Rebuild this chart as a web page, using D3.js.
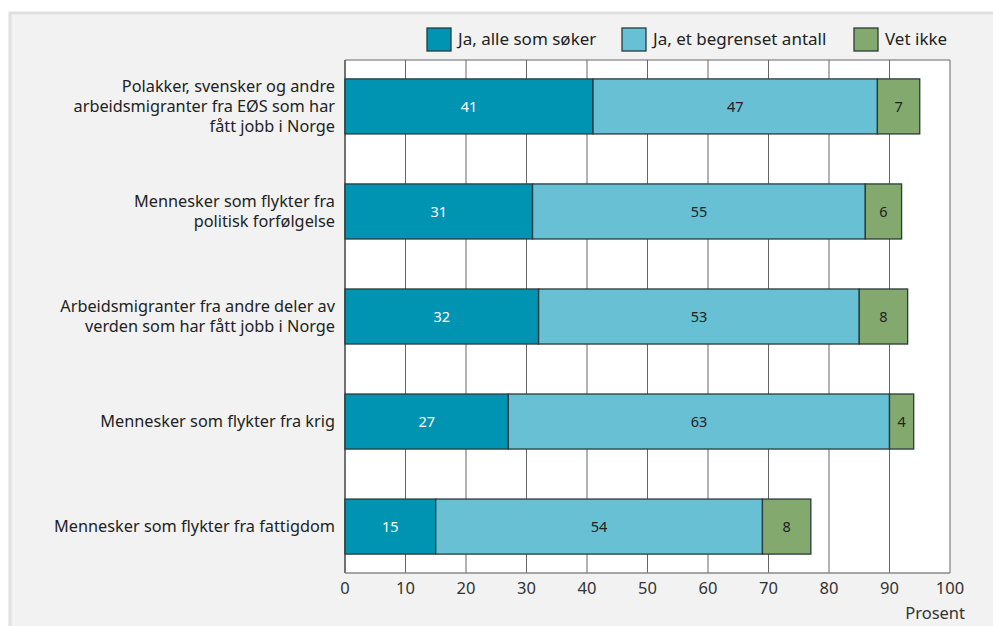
<!DOCTYPE html>
<html><head><meta charset="utf-8">
<script src="https://cdn.jsdelivr.net/npm/d3@7"></script>
<style>html,body{margin:0;padding:0;background:#fff;}svg{display:block;}</style>
</head><body>
<svg id="c" width="993" height="626"></svg>
<script>
const categories = [
  ["Polakker, svensker og andre","arbeidsmigranter fra EØS som har","fått jobb i Norge"],
  ["Mennesker som flykter fra","politisk forfølgelse"],
  ["Arbeidsmigranter fra andre deler av","verden som har fått jobb i Norge"],
  ["Mennesker som flykter fra krig"],
  ["Mennesker som flykter fra fattigdom"]
];
const seriesNames = ["Ja, alle som søker","Ja, et begrenset antall","Vet ikke"];
const jaAlle = [41,31,32,27,15];
const jaBegrenset = [47,55,53,63,54];
const vetIkke = [7,6,8,4,8];
const xTicks = [0,10,20,30,40,50,60,70,80,90,100];
const axisTitle = "Prosent";
const colors = ["#0093b2","#67c0d3","#83a96f"];
const labelColors = ["#ffffff","#222","#222"];

const svg = d3.select("#c");
const font = "'Source Sans Pro','Noto Sans',sans-serif";
// frame
svg.append("rect").attr("x",10).attr("y",13).attr("width",1000).attr("height",640)
  .attr("fill","#f2f2f2").attr("stroke","#e0e0e0").attr("stroke-width",3);

const pL=345, pR=950, pT=60, pB=573;
const x = d3.scaleLinear().domain([0,100]).range([pL,pR]);
const idx = categories.map((d,i)=>i);
const y = d3.scaleBand().domain(idx).range([pT,pB]).paddingInner(0.476).paddingOuter(0.18);

svg.append("rect").attr("x",pL).attr("y",pT).attr("width",pR-pL).attr("height",pB-pT).attr("fill","#fff");
// gridlines
svg.append("g").selectAll("line").data(xTicks).join("line")
  .attr("x1",d=>x(d)).attr("x2",d=>x(d)).attr("y1",pT).attr("y2",pB)
  .attr("stroke",d=>d===0?"#444":"#666").attr("stroke-width",d=>d===0?1.5:1);
svg.append("line").attr("x1",pL).attr("x2",pR).attr("y1",pT).attr("y2",pT).attr("stroke","#666");
svg.append("line").attr("x1",pL).attr("x2",pR).attr("y1",pB).attr("y2",pB).attr("stroke","#888").attr("stroke-width",1.5);

const series = [jaAlle,jaBegrenset,vetIkke];
const stack = idx.map(i=>{let c=0;return series.map((s,k)=>{const o={i,k,v:s[i],x0:c,x1:c+s[i]};c+=s[i];return o;});}).flat();

const g = svg.append("g");
g.selectAll("rect").data(stack).join("rect")
  .attr("x",d=>x(d.x0)).attr("width",d=>x(d.x1)-x(d.x0))
  .attr("y",d=>y(d.i)).attr("height",y.bandwidth())
  .attr("fill",d=>colors[d.k]).attr("stroke","#2b3a3a").attr("stroke-width",1.3);
g.selectAll("text").data(stack).join("text")
  .attr("x",d=>(x(d.x0)+x(d.x1))/2).attr("y",d=>y(d.i)+y.bandwidth()/2)
  .attr("dy","0.35em").attr("text-anchor","middle")
  .attr("font-family",font).attr("font-size",14.5).attr("fill",d=>labelColors[d.k])
  .text(d=>d.v);

// category labels
const cl = svg.append("g");
categories.forEach((lines,i)=>{
  const cy = y(i)+y.bandwidth()/2;
  const lh = 20;
  const t = cl.append("text").attr("text-anchor","end").attr("font-family",font)
    .attr("font-size",16.3).attr("fill","#222");
  lines.forEach((ln,j)=>{
    t.append("tspan").attr("x",335).attr("y",cy+(j-(lines.length-1)/2)*lh).attr("dy","0.35em").text(ln);
  });
});

// x axis labels
svg.append("g").selectAll("text").data(xTicks).join("text")
  .attr("x",d=>x(d)).attr("y",588).attr("dy","0.35em").attr("text-anchor","middle")
  .attr("font-family",font).attr("font-size",16.5).attr("fill","#333").text(d=>d);
svg.append("text").attr("x",965).attr("y",613).attr("dy","0.35em").attr("text-anchor","end")
  .attr("font-family",font).attr("font-size",16.5).attr("fill","#333").text(axisTitle);

// legend
const legX = [427,622,854];
const lg = svg.append("g");
seriesNames.forEach((n,k)=>{
  lg.append("rect").attr("x",legX[k]).attr("y",28).attr("width",24).attr("height",23)
    .attr("fill",colors[k]).attr("stroke","#2b3a3a").attr("stroke-width",1.3);
  lg.append("text").attr("x",legX[k]+31).attr("y",39).attr("dy","0.35em")
    .attr("font-family",font).attr("font-size",17).attr("fill","#222").text(n);
});
</script>
</body></html>
